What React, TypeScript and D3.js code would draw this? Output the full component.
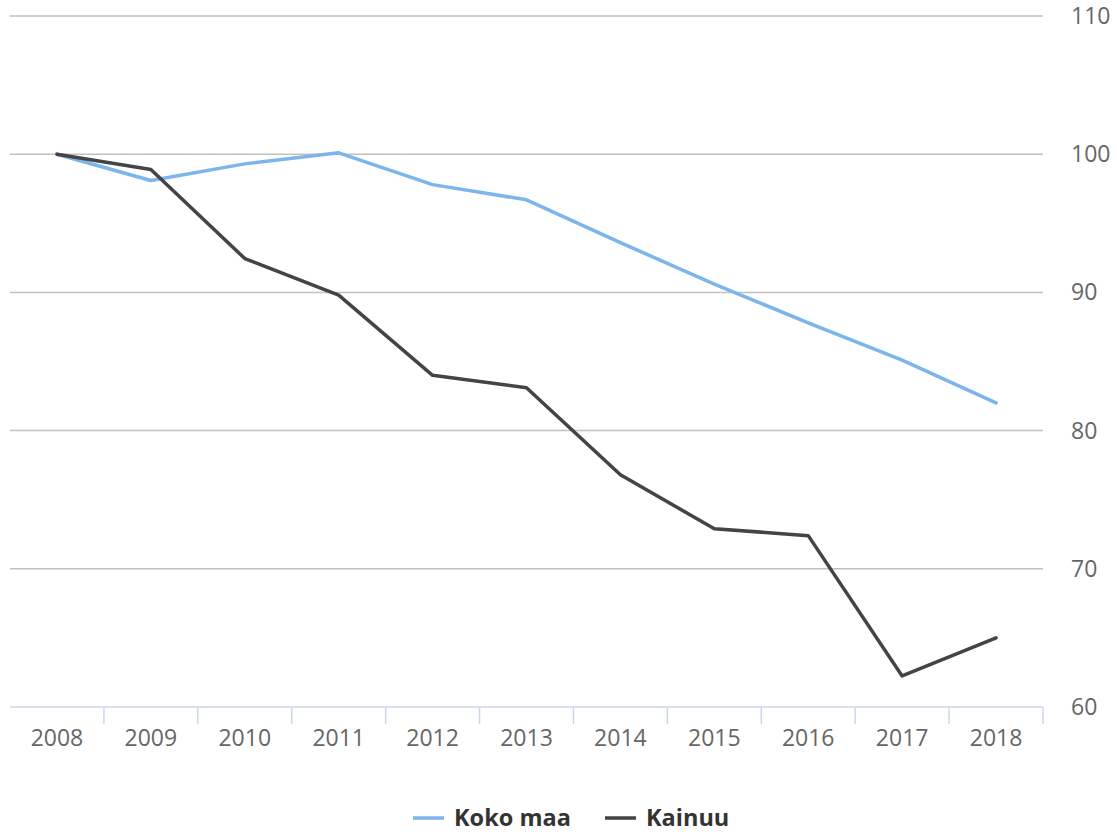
import React, { useEffect, useRef } from 'react';
import * as d3 from 'd3';

const years = ['2008', '2009', '2010', '2011', '2012', '2013', '2014', '2015', '2016', '2017', '2018'];
const kokoMaa = [100, 98.1, 99.3, 100.1, 97.8, 96.7, 93.6, 90.6, 87.8, 85.1, 82.0];
const kainuu = [100, 98.9, 92.45, 89.8, 84.0, 83.1, 76.8, 72.9, 72.4, 62.25, 65.0];
const yTicks = [60, 70, 80, 90, 100, 110];
const seriesNames = ['Koko maa', 'Kainuu'];
const seriesColors = ['#7cb5ec', '#434348'];

const W = 1117;
const H = 832;
const FONT = '"Open Sans", sans-serif';

const App = () => {
    const svgRef = useRef<SVGSVGElement>(null);

    useEffect(() => {
        if (!svgRef.current) return;
        const svg = d3.select(svgRef.current);
        svg.selectAll('*').remove();

        const left = 10, right = 1043, top = 16, bottom = 707;

        const x = d3.scaleBand().domain(years).range([left, right]).padding(0);
        const y = d3.scaleLinear().domain([60, 110]).range([bottom, top]);

        // horizontal grid
        svg.append('g')
            .selectAll('line')
            .data(yTicks.filter(t => t !== 60))
            .enter()
            .append('line')
            .attr('x1', left)
            .attr('x2', right)
            .attr('y1', d => y(d))
            .attr('y2', d => y(d))
            .attr('stroke', '#c0c0c0')
            .attr('stroke-width', 1.5);

        // right-hand value labels
        svg.append('g')
            .selectAll('text')
            .data(yTicks)
            .enter()
            .append('text')
            .attr('x', 1071)
            .attr('y', d => y(d))
            .attr('dy', '0.35em')
            .style('font-family', FONT)
            .style('font-size', '23px')
            .style('fill', '#666')
            .text(d => d);

        // x axis line + ticks between categories
        svg.append('line')
            .attr('x1', left)
            .attr('x2', right)
            .attr('y1', bottom)
            .attr('y2', bottom)
            .attr('stroke', '#ccd6eb')
            .attr('stroke-width', 1.5);

        const boundaries = years.slice(1).map(yr => x(yr) as number).concat([right]);
        svg.append('g')
            .selectAll('line')
            .data(boundaries)
            .enter()
            .append('line')
            .attr('x1', d => d)
            .attr('x2', d => d)
            .attr('y1', bottom)
            .attr('y2', bottom + 17)
            .attr('stroke', '#ccd6eb')
            .attr('stroke-width', 1.5);

        svg.append('g')
            .selectAll('text')
            .data(years)
            .enter()
            .append('text')
            .attr('x', d => (x(d) as number) + x.bandwidth() / 2)
            .attr('y', 738)
            .attr('dy', '0.35em')
            .attr('text-anchor', 'middle')
            .style('font-family', FONT)
            .style('font-size', '23px')
            .style('fill', '#666')
            .text(d => d);

        // lines
        const line = d3.line<number>()
            .x((_, i) => (x(years[i]) as number) + x.bandwidth() / 2)
            .y(d => y(d));

        [kokoMaa, kainuu].forEach((values, i) => {
            svg.append('path')
                .datum(values)
                .attr('d', line)
                .attr('fill', 'none')
                .attr('stroke', seriesColors[i])
                .attr('stroke-width', 3.5)
                .attr('stroke-linejoin', 'round')
                .attr('stroke-linecap', 'round');
        });

        // legend
        const legendX = [413, 605];
        const legendY = 818;
        seriesNames.forEach((name, i) => {
            const g = svg.append('g').attr('transform', `translate(${legendX[i]},${legendY})`);
            g.append('line')
                .attr('x1', 0)
                .attr('x2', 31)
                .attr('stroke', seriesColors[i])
                .attr('stroke-width', 3.5);
            g.append('text')
                .attr('x', 41)
                .attr('dy', '0.35em')
                .style('font-family', FONT)
                .style('font-size', '23.5px')
                .style('font-weight', 'bold')
                .style('fill', '#333')
                .text(name);
        });
    }, []);

    return (
        <svg
            ref={svgRef}
            width={W}
            height={H}
            style={{ position: 'absolute', left: 0, top: 0, background: '#fff' }}
        />
    );
};

export default App;
